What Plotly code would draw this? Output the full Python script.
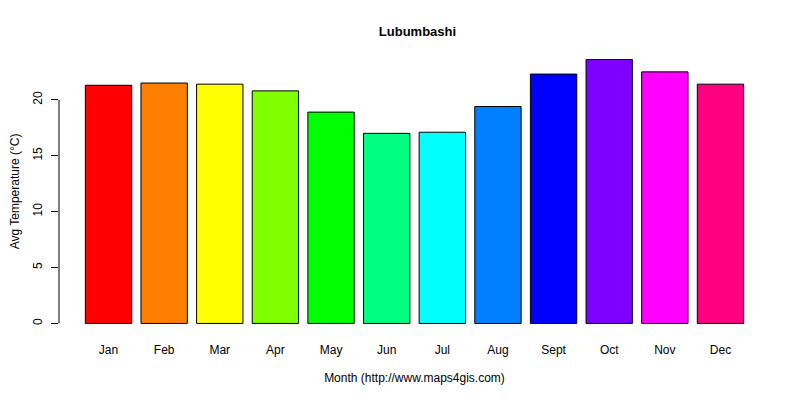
import plotly.graph_objects as go

months = ["Jan", "Feb", "Mar", "Apr", "May", "Jun", "Jul", "Aug", "Sept", "Oct", "Nov", "Dec"]
avg_temp = [21.3, 21.5, 21.4, 20.8, 18.9, 17.0, 17.1, 19.4, 22.3, 23.6, 22.5, 21.4]
colors = ["#FF0000", "#FF8000", "#FFFF00", "#80FF00", "#00FF00", "#00FF80",
          "#00FFFF", "#0080FF", "#0000FF", "#8000FF", "#FF00FF", "#FF0080"]

# R barplot positions: width 1, space 0.2
x_pos = [0.7 + 1.2 * i for i in range(len(months))]

fig = go.Figure(go.Bar(x=x_pos, y=avg_temp, width=1, marker=dict(color=colors, line=dict(color="black", width=1))))

fig.update_layout(
    width=792, height=392,
    margin=dict(l=51, r=30, t=41, b=66),
    plot_bgcolor="white", paper_bgcolor="white",
    font=dict(family="Liberation Sans, Arial", size=12, color="black"),
    title=dict(text="<b>Lubumbashi</b>", x=0.517, xanchor="center", y=0.952, font=dict(size=13)),
    showlegend=False,
)
fig.update_xaxes(range=[-0.368, 14.968], tickvals=x_pos, ticktext=months, showgrid=False,
                 zeroline=False, ticks="", ticklabelstandoff=7, automargin=False,
                 title=dict(text="Month (http://www.maps4gis.com)", standoff=17, font=dict(size=12)))
fig.update_yaxes(range=[-0.944, 24.544], tickvals=[0, 5, 10, 15, 20], showgrid=False, zeroline=False,
                 ticks="outside", ticklen=7, tickangle=-90, tickcolor="black", ticklabelstandoff=4,
                 automargin=False,
                 title=dict(text="Avg Temperature (°C)", standoff=16, font=dict(size=12)))
fig.add_shape(type="line", xref="paper", yref="y", x0=0, x1=0, y0=0, y1=20, line=dict(color="black", width=1))

fig.write_html("out.html")
